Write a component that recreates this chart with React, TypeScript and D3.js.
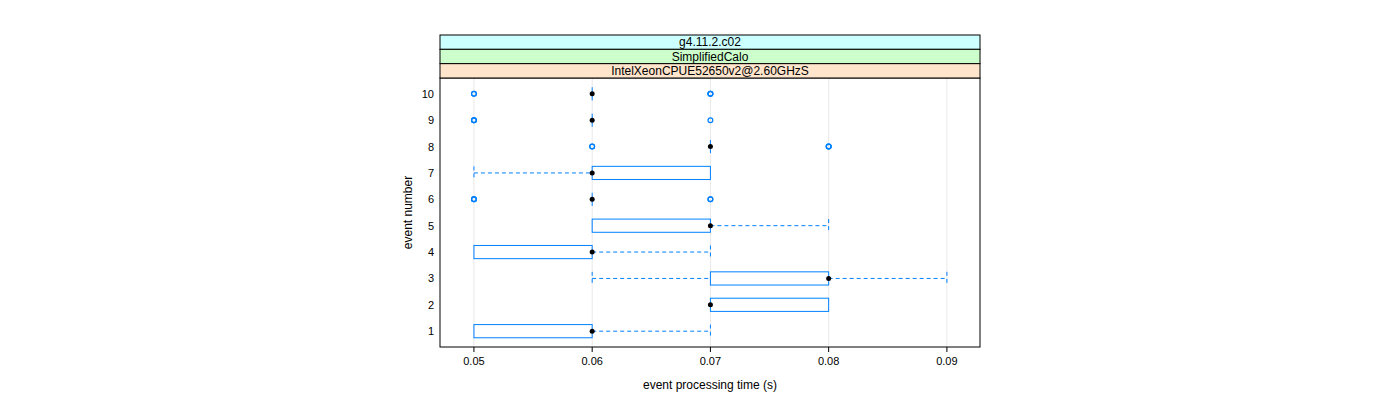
import React from "react";
import * as d3 from "d3";

const events = [1, 2, 3, 4, 5, 6, 7, 8, 9, 10];
const lowerWhisker = [0.05, 0.07, 0.06, 0.05, 0.06, 0.06, 0.05, 0.07, 0.06, 0.06];
const q1 = [0.05, 0.07, 0.07, 0.05, 0.06, 0.06, 0.06, 0.07, 0.06, 0.06];
const medians = [0.06, 0.07, 0.08, 0.06, 0.07, 0.06, 0.06, 0.07, 0.06, 0.06];
const q3 = [0.06, 0.08, 0.08, 0.06, 0.07, 0.06, 0.07, 0.07, 0.06, 0.06];
const upperWhisker = [0.07, 0.08, 0.09, 0.07, 0.08, 0.06, 0.07, 0.07, 0.06, 0.06];
// outliers: [event, value, count]
const outliers: [number, number, number][] = [
  [6, 0.05, 3], [6, 0.07, 2],
  [8, 0.06, 2], [8, 0.08, 3],
  [9, 0.05, 3], [9, 0.07, 1],
  [10, 0.05, 2], [10, 0.07, 3],
];
const xTicks = [0.05, 0.06, 0.07, 0.08, 0.09];
const strips = [
  { label: "g4.11.2.c02", color: "#ccffff" },
  { label: "SimplifiedCalo", color: "#ccffcc" },
  { label: "IntelXeonCPUE52650v2@2.60GHzS", color: "#ffe5cc" },
];

const W = 1400, H = 400;
const L = 440, R = 980, PT = 78, PB = 347;
const stripTop = 35, stripH = 14.33;
const blue = "#0080ff";
const font = "'Liberation Sans', Arial, Helvetica, sans-serif";

export default function App() {
  const x = d3.scaleLinear().domain([0.04713, 0.0928]).range([L, R]);
  const y = d3.scaleLinear().domain([0.4, 10.6]).range([PB, PT]);
  const hh = (y(0) - y(0.5)) / 2;

  return (
    <svg width={W} height={H} style={{ position: "absolute", left: 0, top: 0 }} fontFamily={font}>
      <rect width={W} height={H} fill="white" />
      {xTicks.map((t) => (
        <line key={t} x1={x(t)} x2={x(t)} y1={PT} y2={PB} stroke="#e8e8e8" strokeWidth={1} />
      ))}
      {events.map((e, i) => {
        const cy = y(e);
        const parts: JSX.Element[] = [];
        if (lowerWhisker[i] < q1[i]) {
          parts.push(
            <line key="lw" x1={x(lowerWhisker[i])} x2={x(q1[i])} y1={cy} y2={cy} stroke={blue} strokeDasharray="4,3" />,
            <line key="lc" x1={x(lowerWhisker[i])} x2={x(lowerWhisker[i])} y1={cy - hh} y2={cy + hh} stroke={blue} strokeDasharray="4,3" />
          );
        }
        if (upperWhisker[i] > q3[i]) {
          parts.push(
            <line key="uw" x1={x(q3[i])} x2={x(upperWhisker[i])} y1={cy} y2={cy} stroke={blue} strokeDasharray="4,3" />,
            <line key="uc" x1={x(upperWhisker[i])} x2={x(upperWhisker[i])} y1={cy - hh} y2={cy + hh} stroke={blue} strokeDasharray="4,3" />
          );
        }
        return <g key={e}>{parts}</g>;
      })}
      {events.map((e, i) => {
        const cy = y(e);
        if (q3[i] > q1[i]) {
          return (
            <rect key={e} x={x(q1[i])} y={cy - hh} width={x(q3[i]) - x(q1[i])} height={2 * hh} fill="none" stroke={blue} strokeWidth={1} />
          );
        }
        return <line key={e} x1={x(q1[i])} x2={x(q1[i])} y1={cy - hh} y2={cy + hh} stroke={blue} strokeWidth={1} />;
      })}
      {outliers.map(([e, v, c], k) =>
        d3.range(c).map((j) => (
          <circle key={`${k}-${j}`} cx={x(v)} cy={y(e)} r={2.4} fill="none" stroke={blue} strokeWidth={1.2} />
        ))
      )}
      {events.map((e, i) => (
        <circle key={e} cx={x(medians[i])} cy={y(e)} r={2.5} fill="black" />
      ))}
      <rect x={L} y={PT} width={R - L} height={PB - PT} fill="none" stroke="#000" strokeWidth={1} />
      {strips.map((s, k) => {
        const top = stripTop + k * stripH;
        return (
          <g key={s.label}>
            <rect x={L} y={top} width={R - L} height={stripH} fill={s.color} stroke="#000" strokeWidth={1} />
            <text x={(L + R) / 2} y={top + stripH / 2 + 4.3} textAnchor="middle" fontSize={12} fill="black">
              {s.label}
            </text>
          </g>
        );
      })}
      {xTicks.map((t) => (
        <g key={t}>
          <line x1={x(t)} x2={x(t)} y1={PB} y2={PB + 5} stroke="#000" />
          <text x={x(t)} y={PB + 18} textAnchor="middle" fontSize={11}>
            {d3.format(".2f")(t)}
          </text>
        </g>
      ))}
      {events.map((e) => (
        <text key={e} x={434} y={y(e) + 4} textAnchor="end" fontSize={11}>
          {e}
        </text>
      ))}
      <text x={(L + R) / 2} y={389} textAnchor="middle" fontSize={12}>
        event processing time (s)
      </text>
      <text transform={`translate(412, ${(PT + PB) / 2}) rotate(-90)`} textAnchor="middle" fontSize={12}>
        event number
      </text>
    </svg>
  );
}
